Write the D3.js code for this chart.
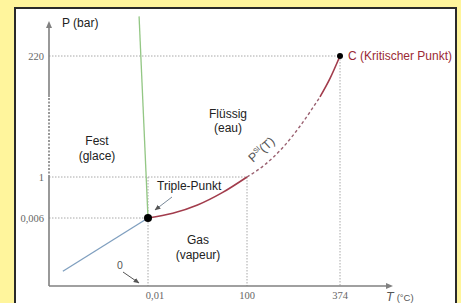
<!DOCTYPE html>
<html><head><meta charset="utf-8">
<script src="https://cdn.jsdelivr.net/npm/d3@7"></script>
<style>
html,body{margin:0;padding:0;background:#fff59c;}
svg{display:block;}
</style></head>
<body>
<svg id="c" width="461" height="303"></svg>
<script>
// ---- data (schematic phase diagram of water) ----
const xTicks = [0.01, 100, 374];
const xTickLabels = ["0,01", "100", "374"];
const yTicks = [0.006, 1, 220];
const yTickLabels = ["0,006", "1", "220"];
const triplePoint = [0.01, 0.006];
const criticalPoint = [374, 220];
// vaporisation curve, T in °C, P in bar
const vapSolidLow = [[0.01,0.006],[25,0.12],[50,0.32],[75,0.62],[100,1]];
const vapDashed = [[100,1],[150,22],[205,54],[255,92],[315,146]];
const vapSolidHigh = [[315,146],[345,180],[374,220]];
// melting curve and sublimation curve
const meltCurve = [[0.01,0.006],[-9,292]];
const sublCurve = [[-86,0.0013],[0.01,0.006]];

const svg = d3.select("#c");
// white panel
svg.append("rect").attr("x",15).attr("y",8).attr("width",441).attr("height",300)
  .attr("fill","#fff").attr("stroke","#2a2a2a").attr("stroke-width",2);

// piecewise (non-proportional) scales
const x = d3.scaleLinear().domain([-100, 0.01, 100, 374, 420]).range([49, 148, 247, 340, 392]);
const y = d3.scaleLinear().domain([0, 0.006, 1, 220, 300]).range([286, 218, 177, 56, 12]);

const gray = "#808080";
const gridC = "#a8a8a8";
const g = svg.append("g");

// dotted guide lines
function dot(x1,y1,x2,y2){
  g.append("line").attr("x1",x1).attr("y1",y1).attr("x2",x2).attr("y2",y2)
   .attr("stroke",gridC).attr("stroke-width",1).attr("stroke-dasharray","1.5,1.5");
}
dot(x(-100), y(220), x(374), y(220));
dot(x(-100), y(1), x(100), y(1));
dot(x(-100), y(0.006), x(0.01), y(0.006));
dot(x(0.01), y(1), x(0.01), y(0));
dot(x(100), y(1), x(100), y(0));
dot(x(374), y(220), x(374), y(0));

// axes
const ax = g.append("g").attr("stroke",gray).attr("stroke-width",1.6).attr("fill","none");
const x0 = x(-100);
ax.append("line").attr("x1",x0).attr("y1",y(0)).attr("x2",x0).attr("y2",y(1));
ax.append("line").attr("x1",x0).attr("y1",y(1)).attr("x2",x0).attr("y2",97).attr("stroke-dasharray","2,1.5");
ax.append("line").attr("x1",x0).attr("y1",97).attr("x2",x0).attr("y2",27);
ax.append("line").attr("x1",x0).attr("y1",y(0)).attr("x2",386).attr("y2",y(0));
g.append("path").attr("d",`M${x0},21 L${x0-3},28 L${x0+3},28 Z`).attr("fill",gray);
g.append("path").attr("d",`M393,${y(0)} L386,${y(0)-3} L386,${y(0)+3} Z`).attr("fill",gray);

// tick labels
const tickFont = "'Liberation Serif','DejaVu Serif',serif";
g.selectAll(".yt").data(yTicks).enter().append("text")
  .attr("x",44).attr("y",d=>y(d)).attr("dy","0.35em").attr("text-anchor","end")
  .attr("font-family",tickFont).attr("font-size",10.5).attr("fill","#666")
  .text((d,i)=>yTickLabels[i]);
g.selectAll(".xt").data(xTicks).enter().append("text")
  .attr("x",(d,i)=>x(d)+(i===0?7:0)).attr("y",299).attr("text-anchor","middle")
  .attr("font-family",tickFont).attr("font-size",10.5).attr("fill","#666")
  .text((d,i)=>xTickLabels[i]);

// curves
const line = d3.line().x(d=>x(d[0])).y(d=>y(d[1])).curve(d3.curveMonotoneX);
const lineL = d3.line().x(d=>x(d[0])).y(d=>y(d[1]));
g.append("path").attr("d",lineL(sublCurve)).attr("stroke","#7f9fbf").attr("stroke-width",1.3).attr("fill","none");
g.append("path").attr("d",lineL(meltCurve)).attr("stroke","#93c784").attr("stroke-width",1.3).attr("fill","none");
g.append("path").attr("d",line(vapSolidLow)).attr("stroke","#a23c4c").attr("stroke-width",1.6).attr("fill","none");
g.append("path").attr("d",line(vapDashed)).attr("stroke","#9a6070").attr("stroke-width",1.4).attr("fill","none").attr("stroke-dasharray","3,2.5");
g.append("path").attr("d",line(vapSolidHigh)).attr("stroke","#a23c4c").attr("stroke-width",1.6).attr("fill","none");

// points
g.append("circle").attr("cx",x(triplePoint[0])).attr("cy",y(triplePoint[1])).attr("r",4).attr("fill","#000");
g.append("circle").attr("cx",x(criticalPoint[0])).attr("cy",y(criticalPoint[1])).attr("r",3).attr("fill","#000");

// text labels
const font = "'Liberation Sans',Arial,sans-serif";
function txt(x0,y0,s,opts={}){
  return g.append("text").attr("x",x0).attr("y",y0).attr("font-family",font)
    .attr("font-size",opts.size||12).attr("fill",opts.fill||"#222")
    .attr("text-anchor",opts.anchor||"middle").text(s);
}
txt(62,27,"P (bar)",{anchor:"start"});
txt(97,145,"Fest"); txt(97,160,"(glace)");
txt(228,118,"Flüssig"); txt(228,132,"(eau)");
txt(198,244,"Gas"); txt(198,259,"(vapeur)");
txt(157,190,"Triple-Punkt",{anchor:"start"});
txt(348,60,"C (Kritischer Punkt)",{anchor:"start",fill:"#9b2a35"});
txt(120,269,"0",{size:10.5,fill:"#555"});

// P^Sl(T) rotated label
const pl = g.append("text").attr("transform","translate(253,163) rotate(-42)")
  .attr("font-family",font).attr("font-size",12.5).attr("fill","#555");
pl.append("tspan").text("P");
pl.append("tspan").attr("font-size",7).attr("dy",-5).text("Sl");
pl.append("tspan").attr("dy",5).text("(T)");

// T (°C)
const tl = g.append("text").attr("x",386).attr("y",301).attr("font-family",font).attr("fill","#555");
tl.append("tspan").attr("font-style","italic").attr("font-size",12.5).text("T");
tl.append("tspan").attr("font-size",9.5).attr("dx",3).text("(°C)");

// arrows
svg.append("defs").append("marker").attr("id","ah").attr("viewBox","0 0 10 10")
  .attr("refX",9).attr("refY",5).attr("markerWidth",6).attr("markerHeight",6).attr("orient","auto")
  .append("path").attr("d","M0,1 L10,5 L0,9 Z").attr("fill","#555");
g.append("line").attr("x1",172).attr("y1",197).attr("x2",155).attr("y2",210)
  .attr("stroke","#7a8a9a").attr("stroke-width",1).attr("marker-end","url(#ah)");
g.append("line").attr("x1",123).attr("y1",272).attr("x2",139).attr("y2",283)
  .attr("stroke","#555").attr("stroke-width",1).attr("marker-end","url(#ah)");
</script>
</body></html>
